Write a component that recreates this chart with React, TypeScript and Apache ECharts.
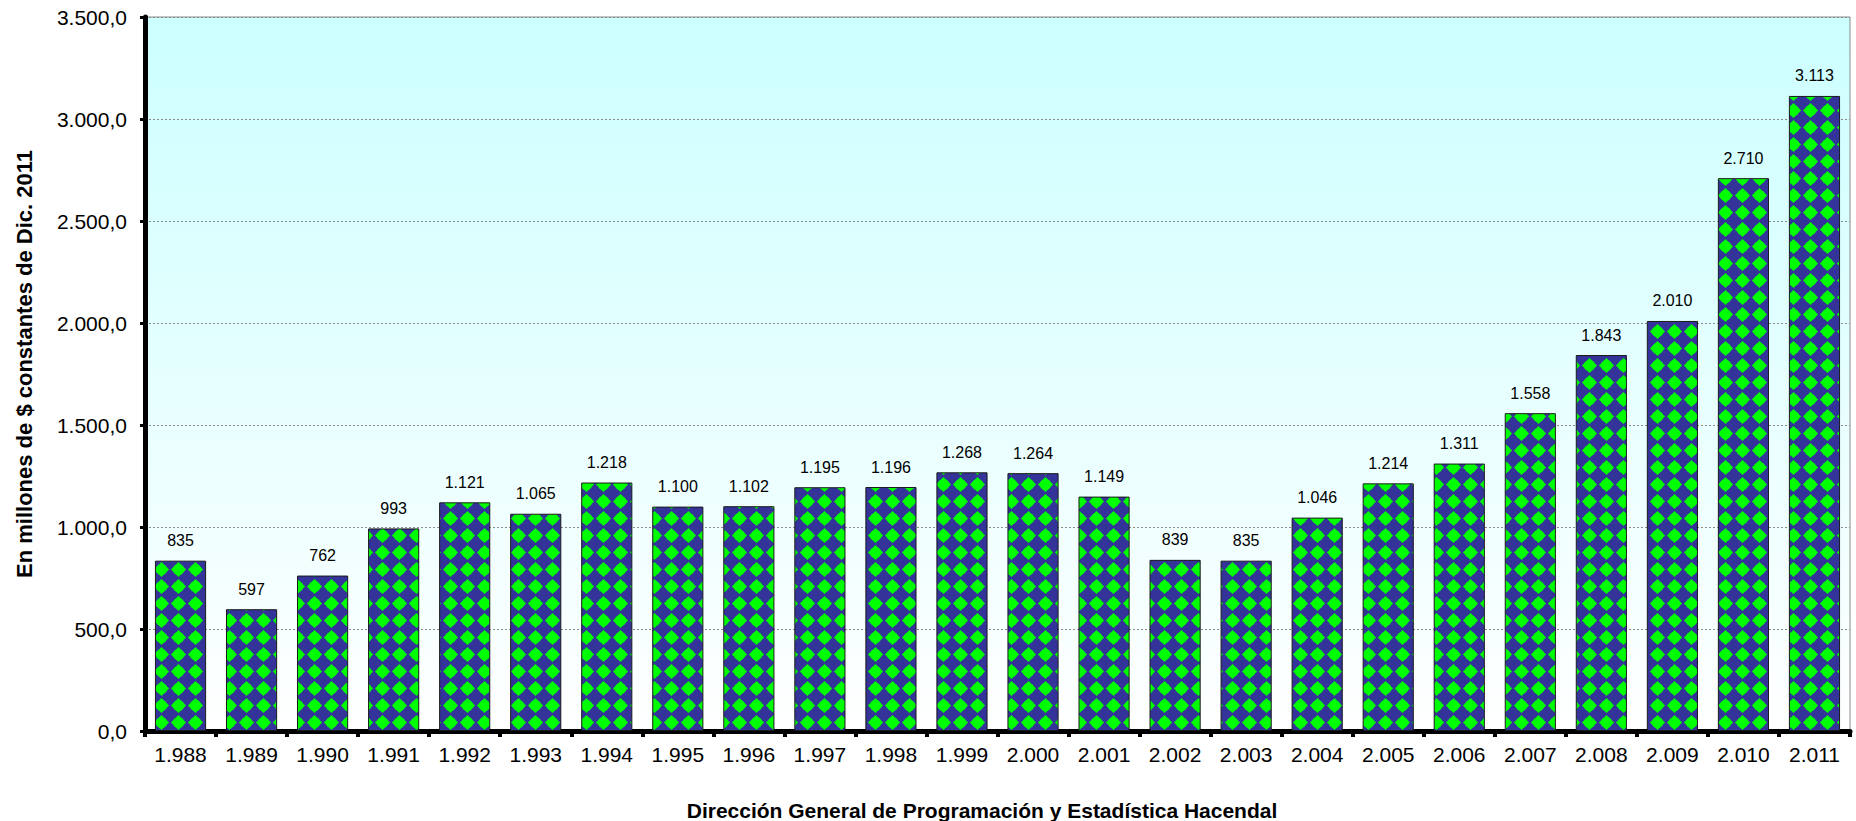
import React, { useEffect, useRef } from "react";
import * as echarts from "echarts";

const years = ["1.988","1.989","1.990","1.991","1.992","1.993","1.994","1.995","1.996","1.997","1.998","1.999","2.000","2.001","2.002","2.003","2.004","2.005","2.006","2.007","2.008","2.009","2.010","2.011"];
const values = [835,597,762,993,1121,1065,1218,1100,1102,1195,1196,1268,1264,1149,839,835,1046,1214,1311,1558,1843,2010,2710,3113];
const yTitle = "En millones de $ constantes de Dic. 2011";
const xTitle = "Dirección General de Programación y Estadística Hacendal";

const FONT = "'Liberation Sans', Arial, sans-serif";

function fmtThousands(n: number): string {
  return Math.round(n).toString().replace(/\B(?=(\d{3})+(?!\d))/g, ".");
}
function fmtAxis(n: number): string {
  return fmtThousands(n) + ",0";
}

function makePattern(): HTMLCanvasElement {
  const c = document.createElement("canvas");
  const s = 17;
  c.width = s;
  c.height = s;
  const ctx = c.getContext("2d")!;
  ctx.fillStyle = "#333399";
  ctx.fillRect(0, 0, s, s);
  ctx.fillStyle = "#00ff00";
  const cx = s / 2, cy = s / 2, r = 7.6;
  ctx.beginPath();
  ctx.moveTo(cx, cy - r);
  ctx.lineTo(cx + r, cy);
  ctx.lineTo(cx, cy + r);
  ctx.lineTo(cx - r, cy);
  ctx.closePath();
  ctx.fill();
  ctx.beginPath();
  ctx.arc(cx, cy, 5.6, 0, Math.PI * 2);
  ctx.fill();
  return c;
}

export default function App() {
  const ref = useRef<HTMLDivElement>(null);
  useEffect(() => {
    if (!ref.current) return;
    const chart = echarts.init(ref.current, null, { renderer: "svg" });
    const pattern = makePattern();
    chart.setOption({
      animation: false,
      backgroundColor: "#ffffff",
      textStyle: { fontFamily: FONT },
      grid: {
        left: 145,
        right: 6,
        top: 17,
        bottom: 90,
        show: true,
        borderColor: "#8a8a8a",
        borderWidth: 1,
        backgroundColor: new echarts.graphic.LinearGradient(0, 0, 0, 1, [
          { offset: 0, color: "#ccffff" },
          { offset: 1, color: "#ffffff" },
        ]),
      },
      xAxis: {
        type: "category",
        data: years,
        axisLine: { show: true, lineStyle: { color: "#000", width: 5 } },
        axisTick: { show: true, length: 6, lineStyle: { color: "#000", width: 4 } },
        axisLabel: { color: "#000", fontSize: 21, fontFamily: FONT, margin: 13 },
      },
      yAxis: {
        type: "value",
        min: 0,
        max: 3500,
        interval: 500,
        axisLine: { show: true, lineStyle: { color: "#000", width: 5 } },
        axisTick: { show: true, length: 5, lineStyle: { color: "#000", width: 3 } },
        axisLabel: {
          color: "#000",
          fontSize: 21,
          fontFamily: FONT,
          margin: 18,
          formatter: (v: number) => fmtAxis(v),
        },
        splitLine: { show: true, lineStyle: { color: "#8a8a8a", width: 1, type: [2, 2] } },
      },
      graphic: [
        {
          type: "text",
          x: 24,
          y: 364,
          rotation: Math.PI / 2,
          style: {
            text: yTitle,
            fontSize: 22,
            fontWeight: "bold",
            fontFamily: FONT,
            fill: "#000",
            textAlign: "center",
            textVerticalAlign: "middle",
          },
        },
        {
          type: "text",
          x: 982,
          y: 810,
          style: {
            text: xTitle,
            fontSize: 21,
            fontWeight: "bold",
            fontFamily: FONT,
            fill: "#000",
            textAlign: "center",
            textVerticalAlign: "middle",
          },
        },
      ],
      series: [
        {
          type: "bar",
          data: values,
          barCategoryGap: "28%",
          itemStyle: {
            color: { image: pattern, repeat: "repeat" },
            borderColor: "#1a1a1a",
            borderWidth: 1,
          },
          label: {
            show: true,
            position: "top",
            distance: 12,
            color: "#000",
            fontSize: 16,
            fontFamily: FONT,
            formatter: (p: any) => fmtThousands(p.value),
          },
        },
      ],
    });

    // Align the fill pattern to each bar's top-left corner, using the library's own bar layout.
    try {
      const model: any = (chart as any).getModel();
      const data = model.getSeriesByIndex(0).getData();
      const items = values.map((v, i) => {
        const l = data.getItemLayout(i);
        if (!l) return v;
        const left = Math.min(l.x, l.x + l.width);
        const top = Math.min(l.y, l.y + l.height);
        return {
          value: v,
          itemStyle: {
            color: { image: pattern, repeat: "repeat", x: left, y: top },
          },
        };
      });
      chart.setOption({ series: [{ data: items }] });
    } catch (e) {
      // keep default pattern alignment
    }

    return () => chart.dispose();
  }, []);
  return (
    <div
      ref={ref}
      style={{ position: "absolute", left: 0, top: 0, width: 1856, height: 821 }}
    />
  );
}
